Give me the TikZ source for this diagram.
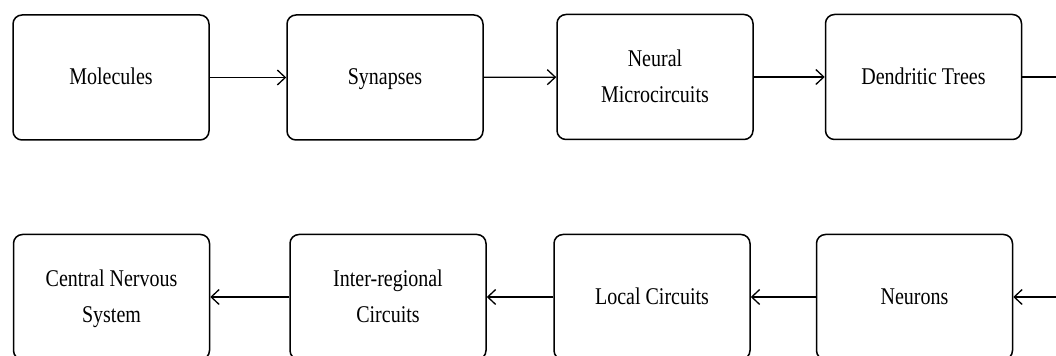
\documentclass[tikz,border=0pt]{standalone}
\usepackage{fontspec}
\setmainfont{Liberation Serif}
\usetikzlibrary{arrows.meta}
% stage labels: slightly tall, narrow serif lettering
\newcommand{\boxtext}[1]{\scalebox{1}[1.2]{\begin{tabular}{@{}c@{}}#1\end{tabular}}}
\renewcommand{\arraystretch}{1.25}

\begin{document}
\begin{tikzpicture}[x=0.5pt,y=-0.5pt,
  stage/.style={draw, rounded corners=4.5pt, line width=0.75pt,
    minimum width=98pt, minimum height=62.5pt, inner sep=0pt,
    font=\fontsize{10}{12}\selectfont},
  flow/.style={-{Straight Barb[length=4pt,width=7.5pt]}, line width=0.65pt}]
\useasboundingbox (0,0) rectangle (1056,356);
\clip (0,0) rectangle (1056,356);

% upper row, left to right
\node[stage] (mol) at (111,77.5) {\boxtext{Molecules}};
\node[stage] (syn) at (385,77.5) {\boxtext{Synapses}};
\node[stage] (nmc) at (655,77) {\boxtext{Neural\\Microcircuits}};
\node[stage] (den) at (923.5,77) {\boxtext{Dendritic Trees}};

% lower row, right to left
\node[stage] (neu) at (914.5,297) {\boxtext{Neurons}};
\node[stage] (loc) at (652,297) {\boxtext{Local Circuits}};
\node[stage] (inr) at (388,297) {\boxtext{Inter-regional\\Circuits}};
\node[stage] (cns) at (111.5,297) {\boxtext{Central Nervous\\System}};

% connectors
\draw[flow] (mol) -- (syn);
\draw[flow] (syn) -- (nmc);
\draw[flow] (nmc) -- (den);
\coordinate (turn) at (1080,77);
\draw[flow] (den.east) -- (turn) |- (neu.east);
\draw[flow] (neu) -- (loc);
\draw[flow] (loc) -- (inr);
\draw[flow] (inr) -- (cns);
\end{tikzpicture}
\end{document}
